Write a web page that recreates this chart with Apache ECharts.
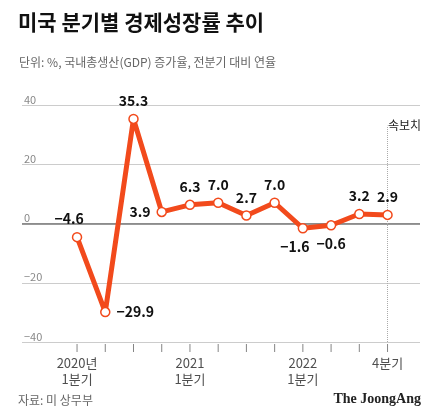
<!DOCTYPE html>
<html><head><meta charset="utf-8">
<script src="https://cdn.jsdelivr.net/npm/echarts@6/dist/echarts.min.js"></script>
<style>body{margin:0;background:#fff}#c{width:435px;height:417px}</style>
</head><body><div id="c"></div>
<script>
var quarters = ['2020Q1','2020Q2','2020Q3','2020Q4','2021Q1','2021Q2','2021Q3','2021Q4','2022Q1','2022Q2','2022Q3','2022Q4'];
var growth = [-4.6, -29.9, 35.3, 3.9, 6.3, 7.0, 2.7, 7.0, -1.6, -0.6, 3.2, 2.9];
var labelPos = ['top', 'right', 'top', 'left', 'top', 'top', 'top', 'top', 'bottom', 'bottom', 'top', 'top'];
var xLabels = {0: '2020년\n1분기', 4: '2021\n1분기', 8: '2022\n1분기', 11: '4분기'};
var yTicks = [-40, -20, 0, 20, 40];

var font = '"Noto Sans CJK KR", sans-serif';
var myChart = echarts.init(document.getElementById('c'));

var lineData = growth.map(function (v, i) {
    var lab = {position: labelPos[i]};
    if (i === 0) { lab.offset = [-8, 0]; }
    if (i === 8) { lab.offset = [-8, 0]; }
    return {value: [i, v], label: lab};
});
var tickData = quarters.map(function (q, i) { return [i, -40]; });

var option = {
    animation: false,
    title: [
        {text: '미국 분기별 경제성장률 추이', left: 13, top: 7,
            textStyle: {fontFamily: font, fontSize: 21, fontWeight: 'bold', color: '#111'}},
        {text: '단위: %, 국내총생산(GDP) 증가율, 전분기 대비 연율', left: 14, top: 51,
            textStyle: {fontFamily: font, fontSize: 12, fontWeight: 'normal', color: '#666'}}
    ],
    graphic: [
        {type: 'text', left: 18, top: 394, style: {text: '자료: 미 상무부', font: '12px ' + font, fill: '#666'}},
        {type: 'text', right: 14, top: 392, style: {text: 'The JoongAng', font: 'bold 14px "Liberation Serif", serif', fill: '#222'}},
        {type: 'text', left: 388, top: 119, style: {text: '속보치', font: '12px ' + font, fill: '#222', align: 'center'}}
    ],
    grid: {left: 22, right: 15, top: 105, bottom: 75},
    xAxis: {
        type: 'value', min: -1.95, max: 12.15,
        splitLine: {show: false}, axisLine: {show: false}, axisTick: {show: false},
        axisLabel: {show: false}
    },
    yAxis: {
        type: 'value', min: -40, max: 40, interval: 20,
        axisLine: {show: false}, axisTick: {show: false},
        splitLine: {lineStyle: {color: '#ccc', width: 1}},
        axisLabel: {inside: true, margin: 2, verticalAlign: 'bottom', color: '#888',
            fontFamily: font, fontSize: 11,
            formatter: function (v) { return String(v).replace('-', '−'); }}
    },
    series: [
        {
            type: 'line', data: lineData, z: 5,
            lineStyle: {color: '#f24a1c', width: 5},
            symbol: 'circle', symbolSize: 9,
            itemStyle: {color: '#fff', borderColor: '#f24a1c', borderWidth: 1.5},
            label: {show: true, fontFamily: font, fontSize: 14, fontWeight: 'bold', color: '#111',
                distance: 6,
                formatter: function (p) { return String(p.value[1].toFixed(1)).replace('-', '−'); }},
            markLine: {
                silent: true, symbol: 'none', label: {show: false},
                data: [
                    {yAxis: 0, lineStyle: {color: '#777', width: 1.5, type: 'solid'}},
                    [{coord: [11, -40]}, {coord: [11, 33]}]
                ],
                lineStyle: {color: '#aaa', type: 'dotted', width: 1}
            }
        },
        {
            type: 'scatter', data: tickData, symbol: 'rect', symbolSize: [1, 8], symbolOffset: [0, 6],
            itemStyle: {color: '#666'}, silent: true,
            label: {show: true, position: 'bottom', distance: 3, fontFamily: font, fontSize: 13,
                color: '#222', lineHeight: 16,
                formatter: function (p) { return xLabels[p.dataIndex] || ''; }}
        }
    ]
};
myChart.setOption(option);
</script>
</body></html>
